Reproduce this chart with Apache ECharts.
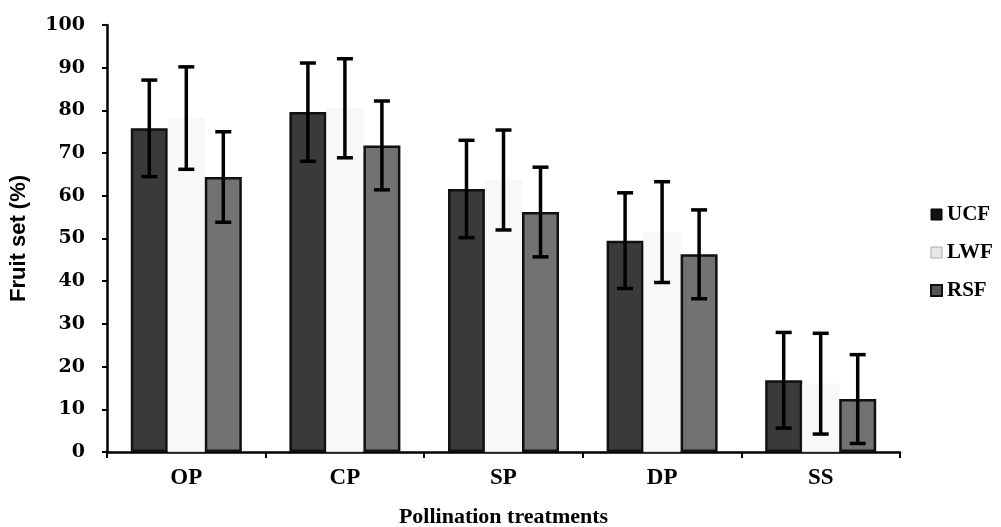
<!DOCTYPE html>
<html>
<head>
<meta charset="utf-8">
<script src="https://cdn.jsdelivr.net/npm/echarts@6/dist/echarts.min.js"></script>
<style>html,body{margin:0;padding:0;background:#fff}#c{width:1001px;height:527px}</style>
</head>
<body>
<div id="c"></div>
<script>
var categories = ['OP', 'CP', 'SP', 'DP', 'SS'];
var seriesNames = ['UCF', 'LWF', 'RSF'];
var ucfMean = [75.8, 79.6, 61.6, 49.5, 16.8];
var ucfErr  = [11.3, 11.5, 11.4, 11.2, 11.2];
var lwfMean = [78.2, 80.5, 63.7, 51.5, 16.0];
var lwfErr  = [12.0, 11.6, 11.7, 11.8, 11.8];
var rsfMean = [64.4, 71.8, 56.2, 46.3, 12.4];
var rsfErr  = [10.6, 10.4, 10.5, 10.4, 10.4];
var yTicks = [0, 10, 20, 30, 40, 50, 60, 70, 80, 90, 100];

var means = [ucfMean, lwfMean, rsfMean];
var errs = [ucfErr, lwfErr, rsfErr];
var fills = ['#3a3a3a', '#f8f8f8', '#727272'];
var borders = ['#111', '#f2f2f2', '#111'];
var catGap = 0.30;
var serifFont = '"Liberation Serif", "Times New Roman", serif';
var digitFont = '"DejaVu Serif", serif';

function errSeries(k) {
  var data = categories.map(function (c, i) { return [i, means[k][i] - errs[k][i], means[k][i] + errs[k][i]]; });
  return {
    type: 'custom',
    name: seriesNames[k] + ' err',
    z: 10,
    data: data,
    encode: { x: 0, y: [1, 2] },
    renderItem: function (params, api) {
      var band = api.size([1, 0])[0];
      var bw = band * (1 - catGap) / 3;
      var off = (k - 1) * bw;
      var lo = api.coord([api.value(0), api.value(1)]);
      var hi = api.coord([api.value(0), api.value(2)]);
      var x = lo[0] + off;
      var cap = 8;
      var st = { stroke: '#000', lineWidth: 3.5 };
      return {
        type: 'group',
        children: [
          { type: 'line', shape: { x1: x, y1: lo[1], x2: x, y2: hi[1] }, style: st },
          { type: 'line', shape: { x1: x - cap, y1: lo[1], x2: x + cap, y2: lo[1] }, style: st },
          { type: 'line', shape: { x1: x - cap, y1: hi[1], x2: x + cap, y2: hi[1] }, style: st }
        ]
      };
    }
  };
}

var series = [];
for (var k = 0; k < 3; k++) {
  series.push({
    type: 'bar',
    name: seriesNames[k],
    data: means[k],
    barGap: '0%',
    barCategoryGap: (catGap * 100) + '%',
    itemStyle: { color: fills[k], borderColor: borders[k], borderWidth: k === 1 ? 0.5 : 2.5 }
  });
}
for (var k2 = 0; k2 < 3; k2++) series.push(errSeries(k2));

var chart = echarts.init(document.getElementById('c'), null, { renderer: 'canvas' });
chart.setOption({
  animation: false,
  backgroundColor: '#fff',
  grid: { left: 107, right: 101, top: 25, bottom: 75, containLabel: false, outerBoundsMode: 'none' },
  legend: {
    data: [
      { name: 'UCF', itemStyle: { color: '#111', borderColor: '#000', borderWidth: 1 } },
      { name: 'LWF', itemStyle: { color: '#e8e8e8', borderColor: '#aaa', borderWidth: 1 } },
      { name: 'RSF', itemStyle: { color: '#555', borderColor: '#111', borderWidth: 2 } }
    ],
    orient: 'vertical',
    left: 925,
    top: 199,
    itemWidth: 11,
    itemHeight: 11,
    itemGap: 17,
    icon: 'rect',
    textStyle: { fontFamily: serifFont, fontWeight: 'bold', fontSize: 21, color: '#000', padding: [0, 0, 0, 0] }
  },
  xAxis: {
    type: 'category',
    data: categories,
    name: 'Pollination treatments',
    nameLocation: 'middle',
    nameGap: 54,
    nameTextStyle: { fontFamily: serifFont, fontWeight: 'bold', fontSize: 22, color: '#000' },
    axisLine: { lineStyle: { color: '#000', width: 2.5 } },
    axisTick: { show: true, length: 6, lineStyle: { color: '#000', width: 2 } },
    axisLabel: { fontFamily: serifFont, fontWeight: 'bold', fontSize: 23, color: '#000', margin: 15 }
  },
  yAxis: {
    type: 'value',
    min: yTicks[0],
    max: yTicks[yTicks.length - 1],
    interval: 10,
    name: 'Fruit set (%)',
    nameLocation: 'middle',
    nameGap: 77,
    nameTextStyle: { fontFamily: '"Liberation Sans", Arial, sans-serif', fontWeight: 'bold', fontSize: 22, color: '#000' },
    axisLine: { show: true, lineStyle: { color: '#000', width: 2.5 } },
    axisTick: { show: true, length: 5, lineStyle: { color: '#000', width: 2 } },
    splitLine: { show: false },
    axisLabel: { fontFamily: digitFont, fontWeight: 'bold', fontSize: 19, color: '#000', margin: 22 }
  },
  series: series
});
</script>
</body>
</html>
